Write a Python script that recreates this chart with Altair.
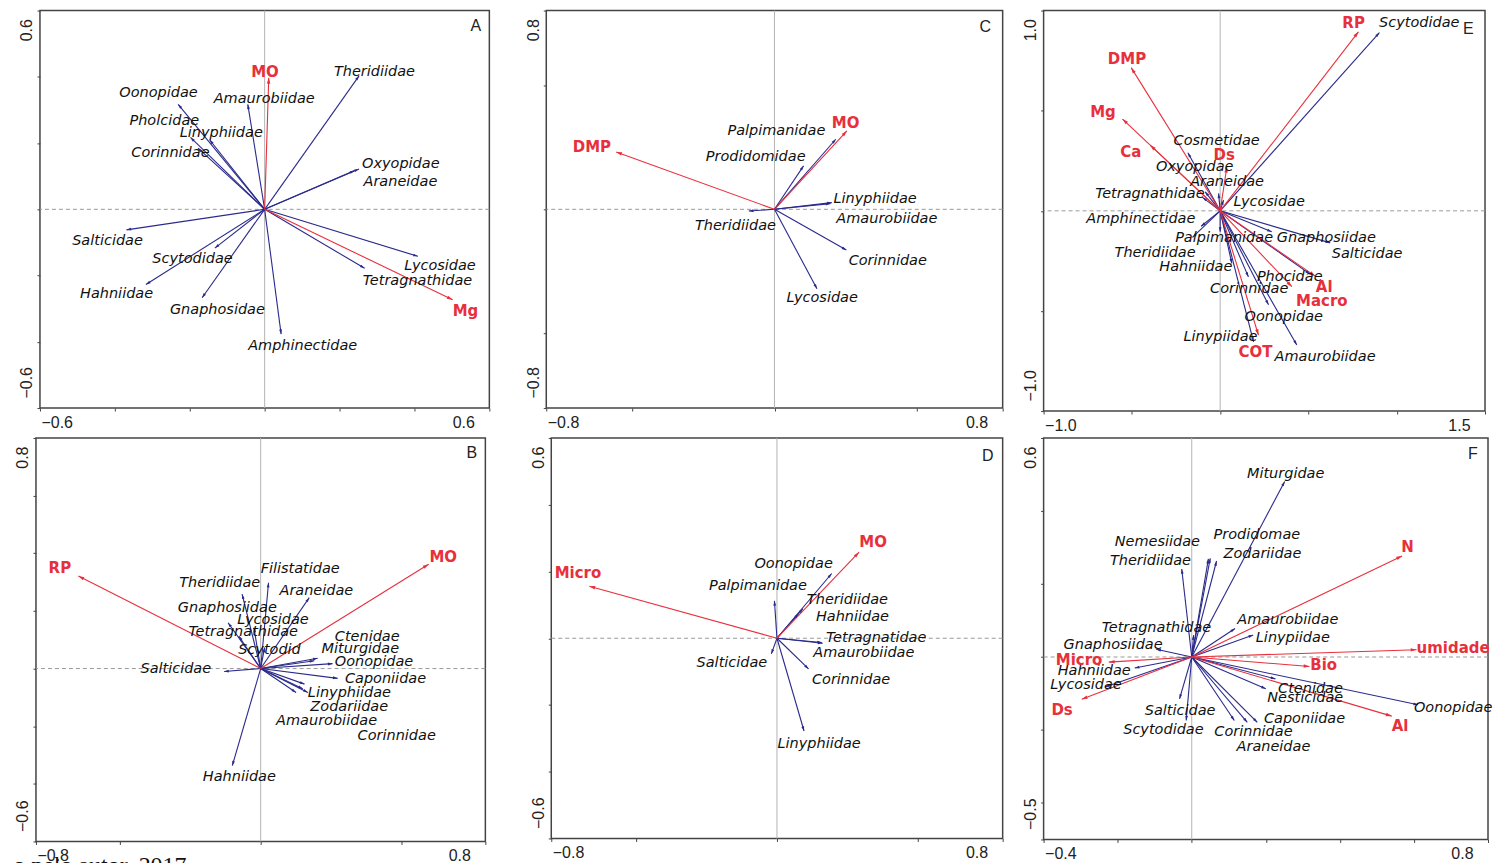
import math
import altair as alt
import pandas as pd

BLUE = "#2a2a8c"
RED = "#e8303c"
HEAD = "M0,0L-0.6,2L0.6,2Z"

# ---------------- Panel A ----------------
A_species = ["Theridiidae", "Oonopidae", "Amaurobiidae", "Pholcidae", "Linyphiidae", "Corinnidae",
             "Oxyopidae", "Araneidae", "Salticidae", "Scytodidae", "Hahniidae", "Gnaphosidae",
             "Amphinectidae", "Lycosidae", "Tetragnathidae"]
A_species_x = [0.252, -0.231, -0.045, -0.198, -0.147, -0.178, 0.252, 0.240, -0.369, -0.133, -0.317, -0.167, 0.044, 0.409, 0.267]
A_species_y = [0.403, 0.317, 0.317, 0.217, 0.210, 0.185, 0.122, 0.117, -0.062, -0.117, -0.227, -0.267, -0.377, -0.142, -0.178]
A_species_lx = [0.185, -0.388, -0.136, -0.361, -0.227, -0.356, 0.260, 0.264, -0.514, -0.300, -0.493, -0.253, -0.044, 0.373, 0.262]
A_species_ly = [0.415, 0.350, 0.332, 0.268, 0.230, 0.170, 0.138, 0.083, -0.095, -0.150, -0.257, -0.303, -0.413, -0.170, -0.215]
A_env = ["MO", "Mg"]
A_env_x = [0.011, 0.502]
A_env_y = [0.397, -0.273]
A_env_lx = [-0.036, 0.502]
A_env_ly = [0.415, -0.307]

# ---------------- Panel C ----------------
C_species = ["Palpimanidae", "Prodidomidae", "Linyphiidae", "Amaurobiidae", "Theridiidae", "Corinnidae", "Lycosidae"]
C_species_x = [0.215, 0.102, 0.201, 0.196, -0.090, 0.252, 0.149]
C_species_y = [0.282, 0.175, 0.027, 0.023, -0.007, -0.164, -0.320]
C_species_lx = [-0.165, -0.241, 0.207, 0.217, -0.279, 0.260, 0.042]
C_species_ly = [0.316, 0.212, 0.043, -0.038, -0.067, -0.210, -0.358]
C_env = ["DMP", "MO"]
C_env_x = [-0.555, 0.254]
C_env_y = [0.231, 0.316]
C_env_lx = [-0.707, 0.201]
C_env_ly = [0.249, 0.349]

# ---------------- Panel E ----------------
E_species = ["Scytodidae", "Cosmetidae", "Oxyopidae", "Araneidae", "Tetragnathidae", "Lycosidae",
             "Amphinectidae", "Palpimanidae", "Gnaphosiidae", "Salticidae", "Theridiidae", "Hahniidae",
             "Phocidae", "Corinnidae", "Oonopidae", "Linypiidae", "Amaurobiidae"]
E_species_x = [0.902, -0.183, -0.085, -0.009, -0.100, 0.019, -0.108, 0.000, 0.292, 0.623, -0.157, 0.066, 0.509, 0.160, 0.274, 0.189, 0.434]
E_species_y = [0.890, 0.290, 0.095, 0.087, 0.067, 0.053, -0.077, -0.105, -0.105, -0.160, -0.133, -0.263, -0.316, -0.330, -0.469, -0.654, -0.670]
E_species_lx = [0.900, -0.264, -0.364, -0.170, -0.708, 0.075, -0.758, -0.255, 0.321, 0.632, -0.598, -0.345, 0.208, -0.057, 0.138, -0.208, 0.308]
E_species_ly = [0.938, 0.349, 0.220, 0.145, 0.083, 0.042, -0.043, -0.138, -0.135, -0.216, -0.210, -0.280, -0.329, -0.393, -0.529, -0.632, -0.729]
E_env = ["RP", "DMP", "Mg", "Ca", "Ds", "Al", "Macro", "COT"]
E_env_x = [0.783, -0.504, -0.553, -0.396, 0.038, 0.538, 0.406, 0.217]
E_env_y = [0.894, 0.715, 0.458, 0.328, 0.220, -0.326, -0.379, -0.621]
E_env_lx = [0.692, -0.636, -0.736, -0.566, -0.038, 0.542, 0.430, 0.104]
E_env_ly = [0.938, 0.760, 0.494, 0.295, 0.278, -0.383, -0.449, -0.704]

# ---------------- Panel B ----------------
B_species = ["Filistatidae", "Theridiidae", "Araneidae", "Gnaphosiidae", "Lycosidae", "Tetragnathidae",
             "Scytodid", "Ctenidae", "Miturgidae", "Oonopidae", "Salticidae", "Caponiidae",
             "Linyphiidae", "Zodariidae", "Amaurobiidae", "Corinnidae", "Hahniidae"]
B_species_x = [0.028, -0.066, 0.173, -0.116, -0.024, -0.078, 0.014, 0.203, 0.191, 0.256, -0.130, 0.274, 0.168, 0.156, 0.126, 0.150, -0.101]
B_species_y = [0.298, 0.258, 0.246, 0.159, 0.142, 0.113, 0.073, 0.036, 0.027, 0.017, -0.010, -0.034, -0.083, -0.054, -0.083, -0.070, -0.337]
B_species_lx = [0.000, -0.290, 0.067, -0.295, -0.083, -0.257, -0.080, 0.264, 0.217, 0.264, -0.428, 0.300, 0.168, 0.177, 0.055, 0.345, -0.206]
B_species_ly = [0.347, 0.296, 0.269, 0.211, 0.167, 0.127, 0.065, 0.111, 0.067, 0.021, 0.000, -0.037, -0.085, -0.133, -0.181, -0.233, -0.378]
B_env = ["RP", "MO"]
B_env_x = [-0.649, 0.598]
B_env_y = [0.321, 0.362]
B_env_lx = [-0.755, 0.601]
B_env_ly = [0.348, 0.387]

# ---------------- Panel D ----------------
D_species = ["Oonopidae", "Palpimanidae", "Theridiidae", "Hahniidae", "Tetragnatidae", "Amaurobiidae",
             "Salticidae", "Corinnidae", "Linyphiidae"]
D_species_x = [0.194, -0.009, 0.092, 0.076, 0.162, 0.159, -0.020, 0.112, 0.096]
D_species_y = [0.194, 0.112, 0.089, 0.074, -0.015, -0.013, -0.047, -0.092, -0.278]
D_species_lx = [-0.080, -0.241, 0.106, 0.138, 0.174, 0.129, -0.285, 0.124, 0.002]
D_species_ly = [0.221, 0.157, 0.114, 0.063, 0.000, -0.043, -0.074, -0.124, -0.316]
D_env = ["Micro", "MO"]
D_env_x = [-0.665, 0.291]
D_env_y = [0.156, 0.258]
D_env_lx = [-0.788, 0.292]
D_env_ly = [0.196, 0.288]

# ---------------- Panel F ----------------
F_species = ["Miturgidae", "Prodidomae", "Nemesiidae", "Zodariidae", "Theridiidae", "Amaurobiidae",
             "Tetragnathidae", "Linypiidae", "Gnaphosiidae", "Hahniidae", "Lycosidae", "Ctenidae",
             "Nesticidae", "Oonopidae", "Salticidae", "Caponiidae", "Scytodidae", "Corinnidae", "Araneidae"]
F_species_x = [0.251, 0.050, 0.045, 0.067, -0.027, 0.117, 0.005, 0.166, -0.096, -0.154, -0.234, 0.226, 0.200, 0.611, -0.033, 0.150, -0.015, 0.115, 0.177]
F_species_y = [0.481, 0.270, 0.269, 0.263, 0.241, 0.078, 0.060, 0.060, 0.021, -0.030, -0.082, -0.060, -0.087, -0.131, -0.115, -0.179, -0.174, -0.174, -0.179]
F_species_lx = [0.149, 0.059, -0.208, 0.086, -0.221, 0.123, -0.243, 0.173, -0.346, -0.362, -0.382, 0.233, 0.204, 0.600, -0.127, 0.195, -0.185, 0.061, 0.121]
F_species_ly = [0.501, 0.333, 0.314, 0.281, 0.264, 0.101, 0.080, 0.053, 0.032, -0.038, -0.078, -0.089, -0.113, -0.140, -0.148, -0.170, -0.199, -0.206, -0.246]
F_env = ["N", "umidade", "Micro", "Bio", "Ds", "Al"]
F_env_x = [0.568, 0.607, -0.224, 0.318, -0.297, 0.540]
F_env_y = [0.277, 0.020, -0.014, -0.026, -0.116, -0.162]
F_env_lx = [0.566, 0.607, -0.367, 0.320, -0.379, 0.540]
F_env_ly = [0.300, 0.025, -0.009, -0.023, -0.144, -0.190]

# panel letters and their positions (data units)
panel_letter = ["A", "C", "E", "B", "D", "F"]
panel_letter_x = [0.564, 0.739, 1.406, 0.752, 0.747, 0.759]
panel_letter_y = [0.553, 0.733, 0.910, 0.749, 0.546, 0.556]

# caption cut at the bottom edge of the page (placed in panel B's data units)
caption_text = ["o pelo autor, 2017"]
caption_x = [-0.881]
caption_y = [-0.645]


def make_df(names, xs, ys, lxs, lys, kx, ky):
    return pd.DataFrame({
        "name": names, "x": xs, "y": ys, "lx": lxs, "ly": lys,
        "o": [0.0] * len(names),
        "ang": [math.degrees(math.atan2(a * kx, b * ky)) % 360 for a, b in zip(xs, ys)],
    })


def make_panel(idx, xdom, ydom, xticks, yticks, w, h, sp, en, caption=False):
    kx = w / (xdom[1] - xdom[0])
    ky = h / (ydom[1] - ydom[0])
    sdf = make_df(*sp, kx, ky)
    edf = make_df(*en, kx, ky)
    xsc = alt.Scale(domain=list(xdom), nice=False, zero=False)
    ysc = alt.Scale(domain=list(ydom), nice=False, zero=False)

    def ends(lo, hi):
        return f"(abs(datum.value - ({lo})) < 1e-6 || abs(datum.value - ({hi})) < 1e-6) ? datum.label : ''"

    common = dict(title=None, grid=False, domain=False, tickSize=3, tickColor="#444",
                  format=".1f", labelFont="Liberation Sans", labelFontSize=16,
                  labelColor="#222", labelOverlap=False, labelFlush=False)
    xaxis = alt.Axis(values=xticks, labelExpr=ends(*xdom), labelPadding=3,
                     labelAlign={"condition": {"test": "datum.value > 0", "value": "right"}, "value": "left"},
                     labelOffset={"condition": {"test": "datum.value > 0", "value": -15}, "value": 1},
                     **common)
    yaxis = alt.Axis(values=yticks, labelExpr=ends(*ydom), labelPadding=2, labelAngle=270,
                     labelBaseline="bottom",
                     labelAlign={"condition": {"test": "datum.value > 0", "value": "right"}, "value": "left"},
                     labelOffset={"condition": {"test": "datum.value > 0", "value": 8}, "value": -10},
                     **common)

    def X(f):
        return alt.X(f, scale=xsc, axis=xaxis)

    def Y(f):
        return alt.Y(f, scale=ysc, axis=yaxis)

    zero_df = pd.DataFrame({"o": [0.0]})
    vline = alt.Chart(zero_df).mark_rule(color="#b4b4b4", strokeWidth=1).encode(x=X("o:Q"))
    hline = alt.Chart(zero_df).mark_rule(color="#9a9a9a", strokeWidth=1, strokeDash=[4, 3]).encode(y=Y("o:Q"))

    def arrows(df, color, size):
        line = alt.Chart(df).mark_rule(color=color, strokeWidth=1.1).encode(
            x=X("o:Q"), y=Y("o:Q"), x2="x:Q", y2="y:Q")
        head = alt.Chart(df).mark_point(shape=HEAD, filled=True, size=size, color=color, opacity=1).encode(
            x=X("x:Q"), y=Y("y:Q"), angle=alt.Angle("ang:Q", scale=None))
        return line, head

    s_line, s_head = arrows(sdf, BLUE, 22)
    e_line, e_head = arrows(edf, RED, 34)

    s_text = alt.Chart(sdf).mark_text(align="left", baseline="middle", font="DejaVu Sans",
                                      fontStyle="italic", fontSize=14.5, color="#111").encode(
        x=X("lx:Q"), y=Y("ly:Q"), text="name:N")
    e_text = alt.Chart(edf).mark_text(align="left", baseline="middle", font="DejaVu Sans",
                                      fontWeight="bold", fontSize=15, color=RED).encode(
        x=X("lx:Q"), y=Y("ly:Q"), text="name:N")

    ldf = pd.DataFrame({"t": [panel_letter[idx]], "x": [panel_letter_x[idx]], "y": [panel_letter_y[idx]]})
    letter = alt.Chart(ldf).mark_text(font="Liberation Sans", fontSize=16, color="#222").encode(
        x=X("x:Q"), y=Y("y:Q"), text="t:N")

    layers = [vline, hline, s_line, e_line, s_head, e_head, s_text, e_text, letter]
    if caption:
        cdf = pd.DataFrame({"t": caption_text, "x": caption_x, "y": caption_y})
        layers.append(alt.Chart(cdf).mark_text(font="Liberation Serif", fontSize=24, color="#111",
                                               align="left", baseline="top").encode(
            x=X("x:Q"), y=Y("y:Q"), text="t:N"))

    return alt.layer(*layers).properties(
        width=w, height=h, view=alt.ViewBackground(stroke="#444", strokeWidth=1.5))


def spacer(w):
    return alt.Chart(pd.DataFrame({"o": [0]})).mark_point(opacity=0, size=0, strokeWidth=0).encode(
        x=alt.value(w / 2), y=alt.value(0.5)).properties(width=w, height=1,
                                                         view=alt.ViewBackground(stroke="transparent"))


t06 = [-0.6, -0.4, -0.2, 0.0, 0.2, 0.4, 0.6]
t08 = [-0.8, -0.5, 0.0, 0.5, 0.8]

pA = make_panel(0, (-0.6, 0.6), (-0.6, 0.6), t06, t06, 450, 398,
                (A_species, A_species_x, A_species_y, A_species_lx, A_species_ly),
                (A_env, A_env_x, A_env_y, A_env_lx, A_env_ly))
pC = make_panel(1, (-0.8, 0.8), (-0.8, 0.8), t08, t08, 457, 398,
                (C_species, C_species_x, C_species_y, C_species_lx, C_species_ly),
                (C_env, C_env_x, C_env_y, C_env_lx, C_env_ly))
pE = make_panel(2, (-1.0, 1.5), (-1.0, 1.0), [-1.0, -0.5, 0.0, 0.5, 1.0, 1.5], [-1.0, -0.5, 0.0, 0.5, 1.0], 442, 401,
                (E_species, E_species_x, E_species_y, E_species_lx, E_species_ly),
                (E_env, E_env_x, E_env_y, E_env_lx, E_env_ly))
pB = make_panel(3, (-0.8, 0.8), (-0.6, 0.8), t08, [-0.6, -0.4, -0.2, 0.0, 0.2, 0.4, 0.6, 0.8], 450, 404,
                (B_species, B_species_x, B_species_y, B_species_lx, B_species_ly),
                (B_env, B_env_x, B_env_y, B_env_lx, B_env_ly), caption=True)
pD = make_panel(4, (-0.8, 0.8), (-0.6, 0.6), t08, t06, 452, 401,
                (D_species, D_species_x, D_species_y, D_species_lx, D_species_ly),
                (D_env, D_env_x, D_env_y, D_env_lx, D_env_ly))
pF = make_panel(5, (-0.4, 0.8), (-0.5, 0.6), [-0.4, -0.2, 0.0, 0.2, 0.4, 0.6, 0.8], [-0.5, -0.4, -0.2, 0.0, 0.2, 0.4, 0.6], 445, 402,
                (F_species, F_species_x, F_species_y, F_species_lx, F_species_ly),
                (F_env, F_env_x, F_env_y, F_env_lx, F_env_ly))

row1 = alt.hconcat(spacer(8), pA, spacer(31), pC, spacer(15), pE, spacing=0)
row2 = alt.hconcat(spacer(2), pB, spacer(40), pD, spacer(15), pF, spacing=0)

PAD = {"left": 0, "top": 0, "right": 0, "bottom": 0}
chart = alt.vconcat(row1, row2, spacing=2).properties(padding=PAD).configure(
    padding=PAD).configure_view(stroke="#444", strokeWidth=1.5)

chart.save("out.html", embed_options={"renderer": "svg", "actions": False})
